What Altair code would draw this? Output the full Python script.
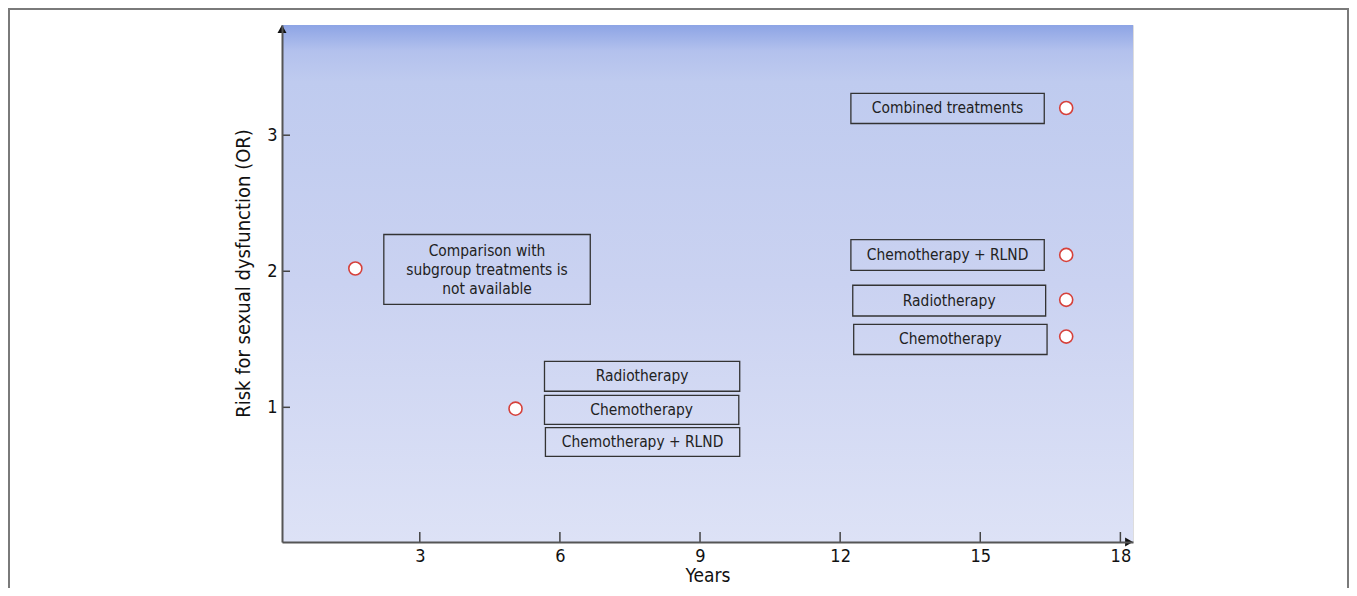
import altair as alt
import pandas as pd

# ---- data ----
point_x = [1.62, 5.05, 16.84, 16.84, 16.84, 16.84]
point_y = [2.02, 0.99, 3.20, 2.12, 1.79, 1.52]

box_text = [
    "Comparison with\nsubgroup treatments is\nnot available",
    "Radiotherapy",
    "Chemotherapy",
    "Chemotherapy + RLND",
    "Combined treatments",
    "Chemotherapy + RLND",
    "Radiotherapy",
    "Chemotherapy",
]
box_x0 = [2.23, 5.67, 5.67, 5.69, 12.23, 12.23, 12.27, 12.29]
box_x1 = [6.65, 9.85, 9.83, 9.85, 16.37, 16.37, 16.40, 16.43]
box_y0 = [1.757, 1.118, 0.875, 0.640, 3.086, 2.007, 1.671, 1.388]
box_y1 = [2.270, 1.338, 1.088, 0.851, 3.307, 2.233, 1.897, 1.610]

x_ticks = [3, 6, 9, 12, 15, 18]
y_ticks = [1, 2, 3]
X_DOMAIN = [0.05, 18.27]
Y_DOMAIN = [0.01, 3.81]

FONT = "DejaVu Sans Condensed, DejaVu Sans, Verdana, sans-serif"
W, H = 851, 517

xs = alt.Scale(domain=X_DOMAIN, nice=False, zero=False)
ys = alt.Scale(domain=Y_DOMAIN, nice=False, zero=False)

xaxis = alt.Axis(values=x_ticks, title="Years", ticks=False, tickSize=0, grid=False,
                 domainColor="#555555", domainWidth=2, labelFont=FONT, labelFontSize=18,
                 labelColor="#111111", labelPadding=5, labelFlush=False, labelOverlap=False,
                 titleFont=FONT, titleFontSize=19, titleFontWeight="normal",
                 titleColor="#111111", titlePadding=1, zindex=1)
yaxis = alt.Axis(values=y_ticks, title="Risk for sexual dysfunction (OR)", ticks=False,
                 tickSize=0, grid=False, domainColor="#555555", domainWidth=2,
                 labelFont=FONT, labelFontSize=18, labelColor="#111111", labelPadding=5,
                 labelFlush=False, labelOverlap=False, titleFont=FONT, titleFontSize=20,
                 titleFontWeight="normal", titleColor="#111111", titlePadding=13,
                 titleY=248, zindex=1)


def X(f):
    return alt.X(f, type="quantitative", scale=xs, axis=xaxis)


def Y(f):
    return alt.Y(f, type="quantitative", scale=ys, axis=yaxis)


pts = pd.DataFrame({"x": point_x, "y": point_y})
boxes = pd.DataFrame({"x": box_x0, "x2": box_x1, "y": box_y0, "y2": box_y1, "label": box_text})
boxes["xc"] = (boxes["x"] + boxes["x2"]) / 2
boxes["yc"] = (boxes["y"] + boxes["y2"]) / 2
boxes["lines"] = boxes["label"].str.count("\n") + 1
single = boxes[boxes["lines"] == 1]
multi = boxes[boxes["lines"] > 1]

bg = pd.DataFrame({"x": [X_DOMAIN[0]], "x2": [X_DOMAIN[1]], "y": [Y_DOMAIN[0]], "y2": [Y_DOMAIN[1]]})
xt = pd.DataFrame({"x": x_ticks, "y": [Y_DOMAIN[0]] * len(x_ticks)})
yt = pd.DataFrame({"x": [X_DOMAIN[0]] * len(y_ticks), "y": y_ticks})
corner_top = pd.DataFrame({"x": [X_DOMAIN[0]], "y": [Y_DOMAIN[1]]})
corner_right = pd.DataFrame({"x": [X_DOMAIN[1]], "y": [Y_DOMAIN[0]]})

grad = alt.Gradient(
    gradient="linear", x1=0, x2=0, y1=0, y2=1,
    stops=[
        alt.GradientStop(offset=0.0, color="#8da4e5"),
        alt.GradientStop(offset=0.05, color="#b3c1ed"),
        alt.GradientStop(offset=0.11, color="#bfcbef"),
        alt.GradientStop(offset=0.5, color="#cad2f1"),
        alt.GradientStop(offset=1.0, color="#dde2f6"),
    ],
)

background = alt.Chart(bg).mark_rect(fill=grad).encode(
    x=X("x"), x2="x2", y=Y("y"), y2="y2")

frame = alt.Chart(pd.DataFrame({"k": [0]})).mark_rect(
    fillOpacity=0, stroke="#7a7a7a", strokeWidth=2).encode(
    x=alt.value(-273), x2=alt.value(1066), y=alt.value(-16), y2=alt.value(620))

box_rects = alt.Chart(boxes).mark_rect(
    fillOpacity=0, stroke="#333333", strokeWidth=1.3).encode(
    x=X("x"), x2="x2", y=Y("y"), y2="y2")

text_style = dict(font=FONT, fontSize=15.4, color="#222222", align="center",
                  baseline="middle", lineBreak="\n", lineHeight=19)

labels_single = alt.Chart(single).mark_text(**text_style).encode(
    x=X("xc"), y=Y("yc"), text="label")

labels_multi = alt.Chart(multi).mark_text(dy=-18, **text_style).encode(
    x=X("xc"), y=Y("yc"), text="label")

circles = alt.Chart(pts).mark_point(
    shape="circle", filled=True, fill="white", stroke="#d6413b", strokeWidth=1.6,
    size=170, opacity=1).encode(x=X("x"), y=Y("y"))

x_tick_marks = alt.Chart(xt).mark_point(
    shape="M0,0V-1", size=400, filled=False, stroke="#444444", strokeWidth=1.5,
    opacity=1).encode(x=X("x"), y=Y("y"))

y_tick_marks = alt.Chart(yt).mark_point(
    shape="M0,0H1", size=256, filled=False, stroke="#444444", strokeWidth=1.5,
    opacity=1).encode(x=X("x"), y=Y("y"))

arrow_up = alt.Chart(corner_top).mark_point(
    shape="triangle-up", filled=True, color="#111111", size=81, opacity=1,
    yOffset=4).encode(x=X("x"), y=Y("y"))

arrow_right = alt.Chart(corner_right).mark_point(
    shape="triangle-right", filled=True, color="#111111", size=81, opacity=1,
    xOffset=-4).encode(x=X("x"), y=Y("y"))

chart = alt.layer(
    background, frame, box_rects, labels_single, labels_multi, circles,
    x_tick_marks, y_tick_marks, arrow_up, arrow_right,
).properties(
    width=W, height=H,
    autosize=alt.AutoSizeParams(type="none"),
    padding={"left": 274, "top": 17, "right": 216, "bottom": 46},
).configure_view(stroke=None).configure(background="white")

chart.save("out.html", embed_options={"renderer": "svg", "actions": False})
